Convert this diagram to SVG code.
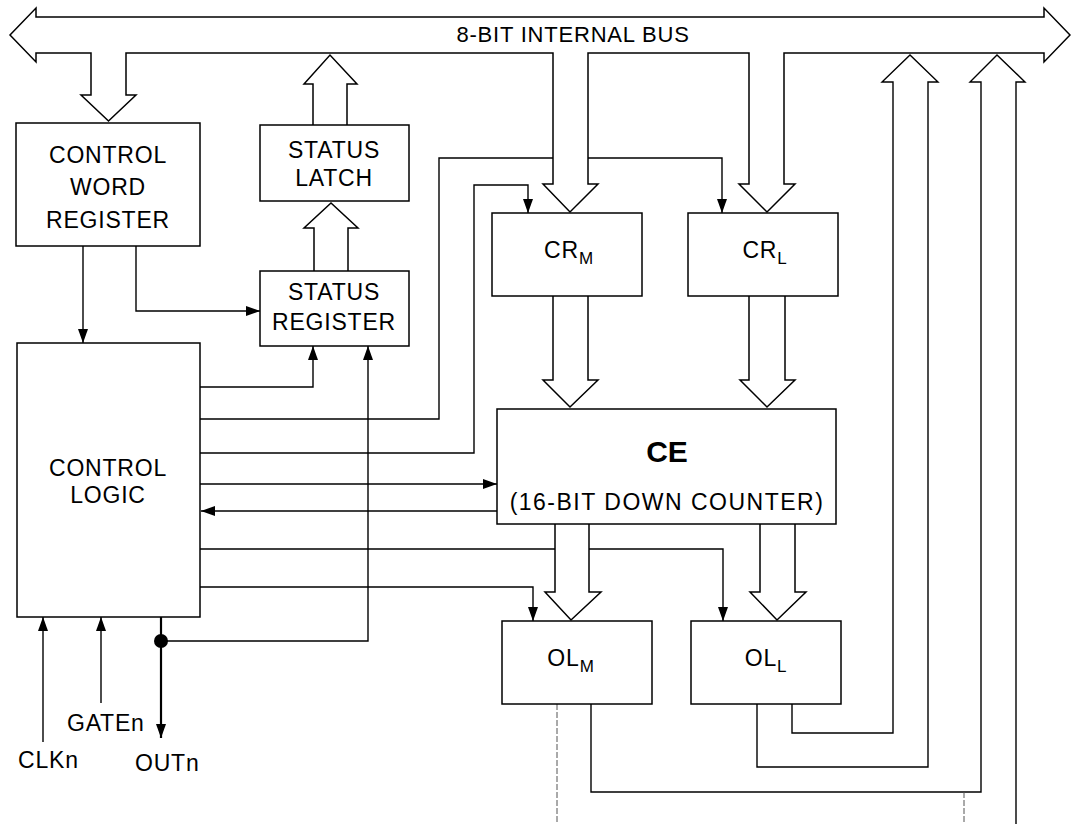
<svg xmlns="http://www.w3.org/2000/svg" width="1071" height="824" viewBox="0 0 1071 824">
<defs>
<marker id="ah" viewBox="0 0 14 10" refX="14" refY="5" markerWidth="14" markerHeight="10" orient="auto" markerUnits="userSpaceOnUse"><path d="M0,0 L14,5 L0,10 z" fill="#000"/></marker>
<style>
.box{fill:#fff;stroke:#000;stroke-width:1.5}
.hol{fill:#fff;stroke:#000;stroke-width:1.5;stroke-linejoin:miter}
.ln{fill:none;stroke:#000;stroke-width:1.4}
.faint{fill:none;stroke:#555;stroke-width:1;stroke-dasharray:6 2}
.t{font-family:"Liberation Sans",Arial,sans-serif;font-size:23px;fill:#000;letter-spacing:0.8px}
.c{text-anchor:middle}
</style>
</defs>
<rect width="1071" height="824" fill="#fff"/>

<g id="connectors">
<path class="ln" d="M83,246 V343" marker-end="url(#ah)"/>
<path class="ln" d="M136,246 V311 H260" marker-end="url(#ah)"/>
<path class="ln" d="M200,387 H313 V346" marker-end="url(#ah)"/>
<path class="ln" d="M161,641 H368 V346" marker-end="url(#ah)"/>
<path class="ln" d="M200,419 H439 V158 H722 V213" marker-end="url(#ah)"/>
<path class="ln" d="M200,453 H474 V185 H528 V213" marker-end="url(#ah)"/>
<path class="ln" d="M200,484 H497" marker-end="url(#ah)"/>
<path class="ln" d="M497,511 H201" marker-end="url(#ah)"/>
<path class="ln" d="M200,549 H723 V621" marker-end="url(#ah)"/>
<path class="ln" d="M200,587 H533 V621" marker-end="url(#ah)"/>
<path class="ln" d="M43,742 V617" marker-end="url(#ah)"/>
<path class="ln" d="M101,703 V617" marker-end="url(#ah)"/>
<path class="ln" style="stroke-width:2.2" d="M161,617 V738" marker-end="url(#ah)"/>
<circle cx="161" cy="641" r="7" fill="#000"/>
<path class="ln" d="M792,704 V733 H893 V82 H882 L910,55 L938,82 H928 V767 H757 V704"/>
<path class="ln" d="M591,704 V792 H981 V82 H970 L997,55 L1025,82 H1016 V824"/>
<path class="faint" d="M557,704 V824"/>
<path class="faint" d="M964,792 V824"/>
</g>

<g id="bus">
<path class="hol" d="M36,17 V8 L10,35 L36,62 V53 H91 V95 H81 L108.5,121 L136,95 H126 V53 H553 V184 H543 L570,212 L598,184 H588 V53 H749 V184 H739 L767,212 L795,184 H784 V53 H1044 V62 L1070,35 L1044,8 V17 Z"/>
<text class="t c" x="573" y="42" style="font-size:22px">8-BIT INTERNAL BUS</text>
</g>

<g id="arrows">
<path class="hol" d="M313,125 V84 H304 L330,55 L357,84 H347 V125"/>
<path class="hol" d="M314,271 V228 H304 L331,203 L358,228 H348 V271"/>
<path class="hol" d="M553,296 V380 H543 L570,407 L598,380 H588 V296"/>
<path class="hol" d="M749,296 V380 H740 L767,407 L795,380 H785 V296"/>
<path class="hol" d="M555,524 V592 H545 L571,620 L601,592 H589 V524"/>
<path class="hol" d="M760,524 V592 H750 L777,620 L806,592 H795 V524"/>
</g>

<g id="control-word-register">
<rect class="box" x="16" y="123" width="184" height="123"/>
<text class="t c" x="108" y="163">CONTROL</text>
<text class="t c" x="108" y="195">WORD</text>
<text class="t c" x="108" y="228">REGISTER</text>
</g>

<g id="status-latch">
<rect class="box" x="260" y="125" width="149" height="76"/>
<text class="t c" x="334" y="158">STATUS</text>
<text class="t c" x="334" y="186">LATCH</text>
</g>

<g id="status-register">
<rect class="box" x="260" y="271" width="149" height="75"/>
<text class="t c" x="334" y="300">STATUS</text>
<text class="t c" x="334" y="330">REGISTER</text>
</g>

<g id="control-logic">
<rect class="box" x="17" y="343" width="183" height="274"/>
<text class="t c" x="108" y="476">CONTROL</text>
<text class="t c" x="108" y="503">LOGIC</text>
</g>

<g id="cr-m">
<rect class="box" x="492" y="213" width="150" height="83"/>
<text class="t c" x="569" y="258">CR<tspan font-size="17" dy="6">M</tspan></text>
</g>

<g id="cr-l">
<rect class="box" x="688" y="213" width="150" height="83"/>
<text class="t c" x="765" y="258">CR<tspan font-size="17" dy="6">L</tspan></text>
</g>

<g id="ce">
<rect class="box" x="497" y="409" width="339" height="115"/>
<text class="t c" x="667" y="462" style="font-size:30px;font-weight:bold;letter-spacing:0">CE</text>
<text class="t c" x="667" y="510" style="font-size:23px;letter-spacing:1.5px">(16-BIT DOWN COUNTER)</text>
</g>

<g id="ol-m">
<rect class="box" x="502" y="621" width="150" height="83"/>
<text class="t c" x="571" y="666">OL<tspan font-size="17" dy="6">M</tspan></text>
</g>

<g id="ol-l">
<rect class="box" x="691" y="621" width="150" height="83"/>
<text class="t c" x="766" y="666">OL<tspan font-size="17" dy="6">L</tspan></text>
</g>

<g id="pins">
<text class="t" x="67" y="731">GATEn</text>
<text class="t" x="18" y="768">CLKn</text>
<text class="t" x="135" y="771">OUTn</text>
</g>
</svg>
